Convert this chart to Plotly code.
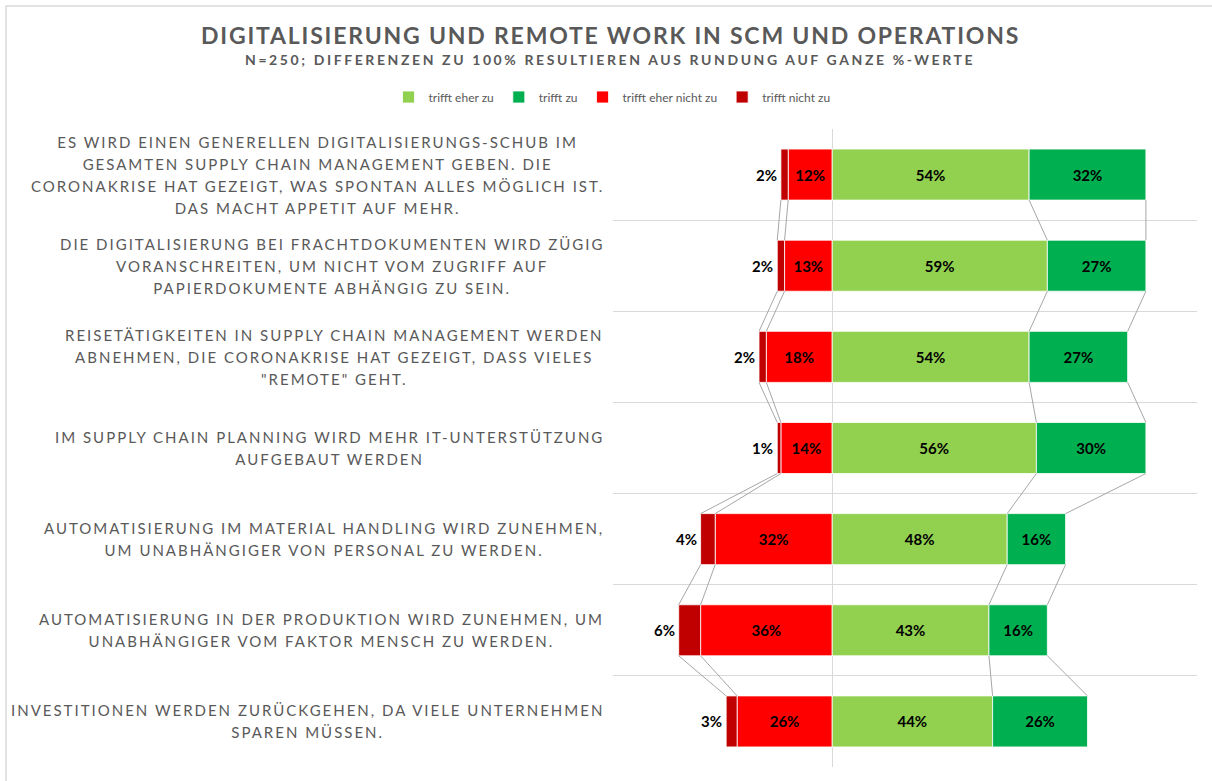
import plotly.graph_objects as go

# Statements (top to bottom)
statements = [
    "ES WIRD EINEN GENERELLEN DIGITALISIERUNGS-SCHUB IM<br>GESAMTEN SUPPLY CHAIN MANAGEMENT GEBEN. DIE<br>CORONAKRISE HAT GEZEIGT, WAS SPONTAN ALLES MÖGLICH IST.<br>DAS MACHT APPETIT AUF MEHR.",
    "DIE DIGITALISIERUNG BEI FRACHTDOKUMENTEN WIRD ZÜGIG<br>VORANSCHREITEN, UM NICHT VOM ZUGRIFF AUF<br>PAPIERDOKUMENTE ABHÄNGIG ZU SEIN.",
    "REISETÄTIGKEITEN IN SUPPLY CHAIN MANAGEMENT WERDEN<br>ABNEHMEN, DIE CORONAKRISE HAT GEZEIGT, DASS VIELES<br>\"REMOTE\" GEHT.",
    "IM SUPPLY CHAIN PLANNING WIRD MEHR IT-UNTERSTÜTZUNG<br>AUFGEBAUT WERDEN",
    "AUTOMATISIERUNG IM MATERIAL HANDLING WIRD ZUNEHMEN,<br>UM UNABHÄNGIGER VON PERSONAL ZU WERDEN.",
    "AUTOMATISIERUNG IN DER PRODUKTION WIRD ZUNEHMEN, UM<br>UNABHÄNGIGER VOM FAKTOR MENSCH ZU WERDEN.",
    "INVESTITIONEN WERDEN ZURÜCKGEHEN, DA VIELE UNTERNEHMEN<br>SPAREN MÜSSEN.",
]

# Shares in percent
trifft_eher_zu = [54, 59, 54, 56, 48, 43, 44]
trifft_zu = [32, 27, 27, 30, 16, 16, 26]
trifft_eher_nicht_zu = [12, 13, 18, 14, 32, 36, 26]
trifft_nicht_zu = [2, 2, 2, 1, 4, 6, 3]

series_names = ["trifft eher zu", "trifft zu", "trifft eher nicht zu", "trifft nicht zu"]
colors = ["#92D050", "#00B050", "#FF0000", "#C00000"]

FONT = "Lato"
GREY = "#595959"
W, H = 1212, 781
ML, MR, MT, MB = 613, 15, 129, 14
PW, PH = W - ML - MR, H - MT - MB
BAR_W = 0.56


def px_x(p):
    return (p - ML) / PW


def px_y(p):
    return (H - MB - p) / PH


ys = list(range(len(statements)))
fig = go.Figure()

series = [
    (series_names[0], trifft_eher_zu, 1, True),
    (series_names[1], trifft_zu, 1, True),
    (series_names[2], trifft_eher_nicht_zu, -1, True),
    (series_names[3], trifft_nicht_zu, -1, False),
]
for (name, vals, sign, labelled), col in zip(series, colors):
    fig.add_trace(go.Bar(
        name=name,
        y=ys,
        x=[sign * v for v in vals],
        orientation="h",
        width=BAR_W,
        marker=dict(color=col, line=dict(color="white", width=0.8)),
        text=[f"{v}%" for v in vals] if labelled else None,
        textposition="inside" if labelled else "none",
        insidetextanchor="middle",
        textangle=0,
        constraintext="none",
        textfont=dict(family=FONT, size=15, color="black", weight="bold"),
        hoverinfo="skip",
    ))

# Series lines joining segment ends of neighbouring bars
bounds = [
    [-(a + b) for a, b in zip(trifft_nicht_zu, trifft_eher_nicht_zu)],
    [-b for b in trifft_eher_nicht_zu],
    list(trifft_eher_zu),
    [a + b for a, b in zip(trifft_eher_zu, trifft_zu)],
]
for bnd in bounds:
    lx, ly = [], []
    for i in range(len(ys) - 1):
        lx += [bnd[i], bnd[i + 1], None]
        ly += [ys[i] + BAR_W / 2, ys[i + 1] - BAR_W / 2, None]
    fig.add_trace(go.Scatter(x=lx, y=ly, mode="lines", showlegend=False,
                             line=dict(color="#A6A6A6", width=1), hoverinfo="skip"))

annotations = []
# Outer labels of the "trifft nicht zu" segments
for i, (n, e) in enumerate(zip(trifft_nicht_zu, trifft_eher_nicht_zu)):
    annotations.append(dict(
        x=-(n + e), y=ys[i], xref="x", yref="y", text=f"{n}%", showarrow=False,
        xanchor="right", yanchor="middle", xshift=-2,
        font=dict(family=FONT, size=15, color="black", weight="bold"),
    ))

# Statement labels (outer font size sets the line pitch, inner span the glyph size)
for i, s in enumerate(statements):
    annotations.append(dict(
        x=px_x(606), y=ys[i], xref="paper", yref="y",
        text=f"<span style='letter-spacing:2px;font-size:15px'>{s}</span>",
        showarrow=False, xanchor="right", yanchor="middle", align="center",
        font=dict(family=FONT, size=17, color=GREY),
    ))

# Title and subtitle
annotations.append(dict(
    x=px_x(610), y=px_y(35), xref="paper", yref="paper",
    text="<span style='letter-spacing:1.8px'>DIGITALISIERUNG UND REMOTE WORK IN SCM UND OPERATIONS</span>",
    showarrow=False, xanchor="center", yanchor="middle",
    font=dict(family=FONT, size=23, color=GREY, weight="bold"),
))
annotations.append(dict(
    x=px_x(610), y=px_y(60), xref="paper", yref="paper",
    text="<span style='letter-spacing:2.6px'>N=250; DIFFERENZEN ZU 100% RESULTIEREN AUS RUNDUNG AUF GANZE %-WERTE</span>",
    showarrow=False, xanchor="center", yanchor="middle",
    font=dict(family=FONT, size=14, color=GREY, weight="bold"),
))

fig.update_layout(
    width=W, height=H,
    margin=dict(l=ML, r=MR, t=MT, b=MB, pad=0),
    paper_bgcolor="white", plot_bgcolor="white",
    barmode="relative",
    showlegend=True,
    legend=dict(orientation="h", x=px_x(612), y=px_y(97), xanchor="center", yanchor="middle",
                font=dict(family=FONT, size=12, color=GREY), traceorder="normal",
                itemwidth=30, bgcolor="rgba(0,0,0,0)"),
    annotations=annotations,
    shapes=[dict(type="rect", xref="paper", yref="paper",
                 x0=px_x(6), x1=px_x(1300), y0=px_y(900), y1=px_y(6),
                 line=dict(color="#D9D9D9", width=1.5), fillcolor="rgba(0,0,0,0)", layer="below")],
    font=dict(family=FONT),
)
fig.update_xaxes(range=[-60, 100], showgrid=False, showticklabels=False, ticks="",
                 zeroline=True, zerolinecolor="#D9D9D9", zerolinewidth=1, fixedrange=True)
fig.update_yaxes(range=[len(ys) - 0.5, -0.5], tickmode="linear", tick0=-0.5, dtick=1,
                 showgrid=True, gridcolor="#D9D9D9", gridwidth=1,
                 showticklabels=False, ticks="", zeroline=False, showline=False)

fig.write_html("out.html")
